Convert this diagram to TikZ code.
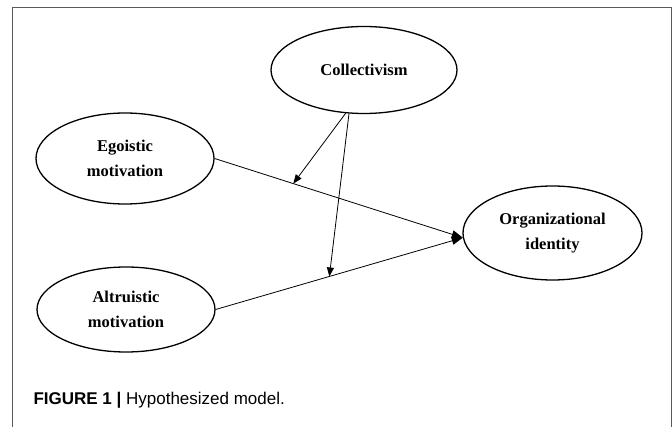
\documentclass[tikz,border=0pt]{standalone}
\usepackage{fontspec}
\setmainfont{Liberation Serif}
\newfontfamily\capfont{Liberation Sans}
\usetikzlibrary{shapes.geometric,arrows.meta}
\tikzset{latent/.style={ellipse, draw=black, line width=1.3pt, inner sep=0pt, align=center,
    font=\fontsize{16.5}{25}\selectfont\bfseries},
link/.style={line width=0.8pt, -{Triangle[length=11pt,width=8pt]}},
modlink/.style={line width=0.8pt, -{Triangle[length=9pt,width=7pt]}}}

\begin{document}
\begin{tikzpicture}[x=1pt,y=-1pt]
\useasboundingbox (0,0) rectangle (672,427);

% frame
\draw[gray!70!black, line width=1pt] (12,427) -- (12,8) -- (671,8) -- (671,427);

\node[latent, minimum width=186pt, minimum height=87pt] (coll) at (364,70) {Collectivism};
\node[latent, minimum width=178pt, minimum height=91pt] (ego) at (125,158.5) {Egoistic\\motivation};
\node[latent, minimum width=178pt, minimum height=85pt] (alt) at (126,309.5) {Altruistic\\motivation};
\node[latent, minimum width=179pt, minimum height=94pt] (org) at (552.5,233) {Organizational\\identity};

\draw[link] (ego.east) -- (org.183) coordinate[pos=0.317] (m1);
\draw[link] (alt.east) -- (org.183) coordinate[pos=0.46] (m2);

\draw[modlink] (coll.247) -- (m1);
\draw[modlink] (coll.251) -- (m2);

\node[anchor=base west, font=\capfont\fontsize{17}{20}\selectfont] (cap) at (30,405)
  {\textbf{FIGURE 1 |} Hypothesized model.};

\end{tikzpicture}
\end{document}
